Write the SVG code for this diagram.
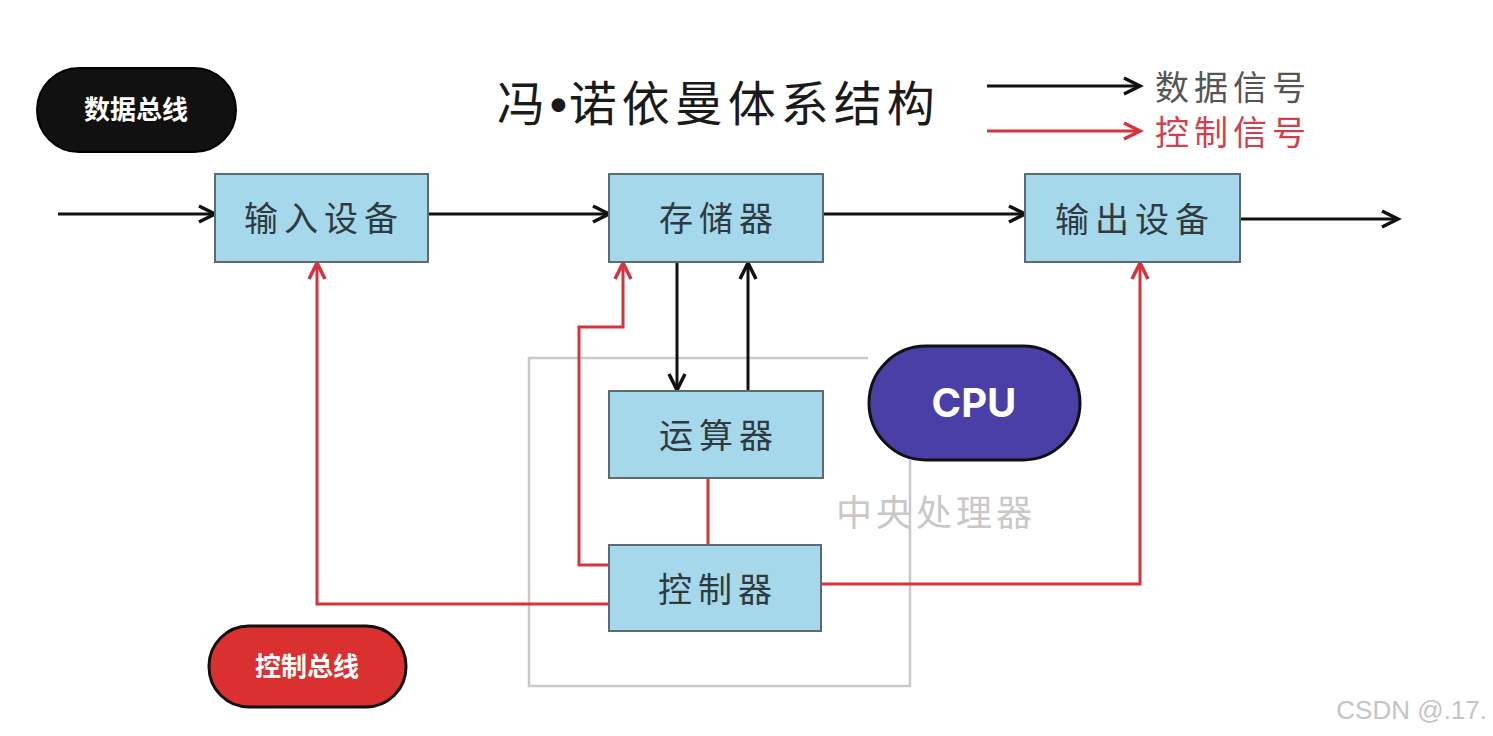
<svg xmlns="http://www.w3.org/2000/svg" width="1493" height="736" viewBox="0 0 1493 736">
<style>
.box{fill:#a5d8ea;stroke:#5d6b70;stroke-width:2}
.bt{font-family:"Noto Sans CJK SC","Noto Sans",sans-serif;font-size:34px;fill:#2f3a40;text-anchor:middle;letter-spacing:6px}
.blk{stroke:#111;stroke-width:3;fill:none}
.red{stroke:#d8323c;stroke-width:3;fill:none}
.pillt{font-family:"Noto Sans CJK SC","Noto Sans",sans-serif;font-size:26px;font-weight:bold;fill:#fff;text-anchor:middle}
</style>
<defs>
<marker id="ab" markerUnits="userSpaceOnUse" markerWidth="24" markerHeight="20" refX="20" refY="10" orient="auto">
<path d="M4,2 L20,10 L4,18" fill="none" stroke="#111" stroke-width="3.5"/>
</marker>
<marker id="ar" markerUnits="userSpaceOnUse" markerWidth="24" markerHeight="20" refX="20" refY="10" orient="auto">
<path d="M4,2 L20,10 L4,18" fill="none" stroke="#d8323c" stroke-width="3.5"/>
</marker>
</defs>
<rect width="1493" height="736" fill="#fff"/>

<g id="title">
<text x="497" y="121" font-family="'Noto Sans CJK SC',sans-serif" font-size="48" fill="#1a1a1a" letter-spacing="5">冯<tspan font-family="'Liberation Sans',sans-serif" font-weight="bold" letter-spacing="2">•</tspan>诺依曼体系结构</text>
</g>

<g id="legend">
<path class="blk" d="M987,86 L1140,86" marker-end="url(#ab)"/>
<path class="red" d="M987,131 L1140,131" marker-end="url(#ar)"/>
<text x="1155" y="100" font-family="'Noto Sans CJK SC',sans-serif" font-size="34" fill="#555" letter-spacing="5">数据信号</text>
<text x="1155" y="145" font-family="'Noto Sans CJK SC',sans-serif" font-size="34" fill="#d0404f" letter-spacing="5">控制信号</text>
</g>

<g id="data-bus">
<rect x="37" y="68" width="199" height="84" rx="42" fill="#111" stroke="#000" stroke-width="2"/>
<text class="pillt" x="136" y="119">数据总线</text>
</g>

<g id="cpu-frame">
<path d="M868,358 L529,358 L529,686 L910,686 L910,460" fill="none" stroke="#c9c9c9" stroke-width="2.5"/>
<text x="936" y="526" font-family="'Noto Sans CJK SC',sans-serif" font-size="36" fill="#c8c8c8" text-anchor="middle" letter-spacing="4">中央处理器</text>
</g>

<g id="connectors">
<path class="blk" d="M58,214 L215,214" marker-end="url(#ab)"/>
<path class="blk" d="M428,214 L609,214" marker-end="url(#ab)"/>
<path class="blk" d="M823,214 L1025,214" marker-end="url(#ab)"/>
<path class="blk" d="M1240,219 L1398,219" marker-end="url(#ab)"/>
<path class="blk" d="M677,262 L677,390" marker-end="url(#ab)"/>
<path class="blk" d="M748,391 L748,263" marker-end="url(#ab)"/>
<path class="red" d="M609,604 L317,604 L317,263" marker-end="url(#ar)"/>
<path class="red" d="M609,565 L579,565 L579,327 L623,327 L623,263" marker-end="url(#ar)"/>
<path class="red" d="M821,584 L1140,584 L1140,263" marker-end="url(#ar)"/>
<path class="red" d="M708,478 L708,545"/>
</g>

<g id="input-device">
<rect class="box" x="215" y="174" width="213" height="88"/>
<text class="bt" x="324" y="231">输入设备</text>
</g>
<g id="memory">
<rect class="box" x="609" y="174" width="214" height="88"/>
<text class="bt" x="719" y="231">存储器</text>
</g>
<g id="output-device">
<rect class="box" x="1025" y="174" width="215" height="88"/>
<text class="bt" x="1135" y="232">输出设备</text>
</g>
<g id="alu">
<rect class="box" x="609" y="391" width="214" height="87"/>
<text class="bt" x="719" y="448">运算器</text>
</g>
<g id="control-unit">
<rect class="box" x="609" y="545" width="212" height="86"/>
<text class="bt" x="718" y="602">控制器</text>
</g>

<g id="cpu">
<rect x="869" y="346" width="211" height="114" rx="57" fill="#4a3fa6" stroke="#111" stroke-width="3"/>
<text x="974" y="417" font-family="Inter,'Noto Sans',sans-serif" font-size="40" font-weight="bold" fill="#fff" text-anchor="middle">CPU</text>
</g>

<g id="control-bus">
<rect x="209" y="626" width="197" height="81" rx="40" fill="#da3030" stroke="#111" stroke-width="3"/>
<text class="pillt" x="307" y="676">控制总线</text>
</g>

<text x="1487" y="719" font-family="'Liberation Sans',sans-serif" font-size="26" fill="#c4c4c4" text-anchor="end">CSDN @.17.</text>
</svg>
